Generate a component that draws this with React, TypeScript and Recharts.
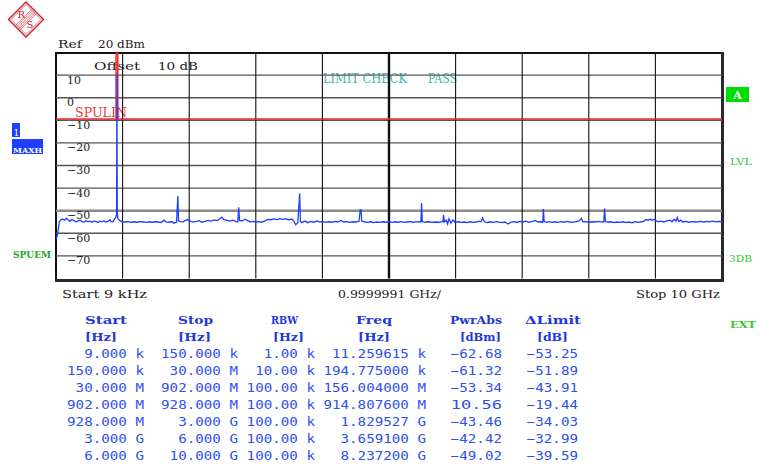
import React from 'react';
import { LineChart, Line, XAxis, YAxis, ReferenceLine } from 'recharts';

// ---- data -----------------------------------------------------------
// trace: [frequency GHz, level dBm]
const traceFreqLevel: [number, number][] = [
  [0.000009, -62.68], [0.024, -60.5], [0.04, -57.0], [0.05, -54.8], [0.075, -54.0], [0.1, -53.7],
  [0.13, -54.2], [0.156, -53.34], [0.18, -54.0], [0.21, -54.6], [0.24, -53.9], [0.27, -54.4],
  [0.3, -54.9], [0.33, -54.5], [0.36, -54.2], [0.39, -54.8], [0.42, -55.0], [0.45, -54.4],
  [0.48, -54.9], [0.51, -54.6], [0.54, -55.1], [0.57, -54.5], [0.6, -54.8], [0.63, -55.2],
  [0.66, -54.6], [0.69, -54.9], [0.72, -54.5], [0.75, -55.0], [0.78, -54.7], [0.81, -54.0],
  [0.825, -54.8], [0.855, -54.9], [0.88, -53.6], [0.9, -53.0], [0.91, -51.5], [0.9148, 10.56],
  [0.92, -51.0], [0.93, -53.5], [0.96, -54.4], [0.99, -54.9], [1.04, -55.0], [1.08, -54.8],
  [1.13, -55.1], [1.17, -54.9], [1.22, -55.1], [1.26, -54.8], [1.31, -55.0], [1.35, -55.2],
  [1.4, -54.9], [1.44, -55.1], [1.49, -54.9], [1.53, -55.0], [1.58, -55.2], [1.62, -54.2],
  [1.65, -54.9], [1.7, -55.1], [1.74, -54.8], [1.77, -55.5], [1.81, -55.0], [1.8295, -43.46],
  [1.84, -54.6], [1.86, -54.8], [1.91, -54.9], [1.95, -54.2], [1.98, -53.9], [2.01, -54.5],
  [2.06, -55.0], [2.1, -54.8], [2.15, -54.4], [2.19, -55.1], [2.24, -54.7], [2.28, -54.3],
  [2.33, -54.6], [2.37, -54.1], [2.42, -54.4], [2.46, -53.6], [2.49, -52.9], [2.52, -54.0],
  [2.57, -54.3], [2.61, -54.6], [2.66, -54.2], [2.7, -54.8], [2.73, -54.9], [2.744, -48.5],
  [2.755, -54.2], [2.79, -54.6], [2.84, -53.8], [2.87, -54.3], [2.91, -54.9], [2.96, -54.7],
  [3.0, -55.0], [3.05, -54.8], [3.09, -55.1], [3.14, -54.5], [3.18, -53.9], [3.23, -54.0],
  [3.27, -53.6], [3.32, -53.9], [3.36, -53.5], [3.41, -53.8], [3.45, -53.6], [3.5, -54.0],
  [3.54, -53.7], [3.57, -54.6], [3.6, -56.2], [3.63, -55.3], [3.659, -42.42], [3.67, -54.8],
  [3.69, -55.2], [3.74, -54.6], [3.78, -55.3], [3.83, -54.7], [3.87, -55.1], [3.92, -54.5],
  [3.96, -55.0], [4.01, -54.8], [4.05, -55.2], [4.1, -54.9], [4.14, -55.1], [4.19, -54.7],
  [4.23, -55.0], [4.28, -54.3], [4.32, -55.0], [4.37, -54.8], [4.41, -55.2], [4.46, -54.9],
  [4.5, -55.0], [4.55, -54.7], [4.568, -49.6], [4.582, -49.8], [4.59, -54.6], [4.64, -55.0],
  [4.68, -55.2], [4.73, -54.9], [4.77, -55.3], [4.82, -55.0], [4.86, -55.2], [4.91, -54.9],
  [4.95, -55.1], [5.0, -54.9], [5.05, -55.2], [5.09, -54.9], [5.14, -55.1], [5.18, -54.8],
  [5.23, -55.2], [5.27, -55.0], [5.32, -54.8], [5.36, -55.1], [5.41, -54.9], [5.45, -54.8],
  [5.48, -54.9], [5.489, -46.6], [5.5, -54.8], [5.54, -55.1], [5.59, -54.9], [5.65, -55.2],
  [5.69, -55.0], [5.74, -55.1], [5.78, -54.9], [5.81, -54.8], [5.82, -51.8], [5.83, -55.0],
  [5.86, -54.2], [5.88, -55.9], [5.9, -53.6], [5.93, -55.5], [5.96, -54.1], [5.99, -55.2],
  [6.04, -54.9], [6.08, -55.2], [6.13, -55.0], [6.17, -55.3], [6.22, -54.9], [6.26, -55.2],
  [6.31, -55.0], [6.35, -54.6], [6.38, -54.9], [6.404, -53.2], [6.43, -54.9], [6.47, -55.3],
  [6.52, -54.9], [6.56, -55.2], [6.61, -54.8], [6.65, -55.1], [6.7, -55.3], [6.74, -55.0],
  [6.79, -55.9], [6.83, -55.1], [6.88, -54.8], [6.92, -55.2], [6.97, -54.7], [7.01, -55.0],
  [7.06, -54.6], [7.1, -55.1], [7.15, -54.8], [7.19, -54.3], [7.24, -55.0], [7.28, -54.9],
  [7.31, -55.1], [7.318, -49.3], [7.33, -54.7], [7.36, -55.1], [7.4, -54.8], [7.45, -55.2],
  [7.49, -54.9], [7.54, -55.2], [7.58, -54.8], [7.63, -55.1], [7.67, -54.7], [7.72, -55.0],
  [7.76, -55.2], [7.81, -54.8], [7.85, -54.5], [7.89, -53.4], [7.91, -54.9], [7.96, -54.8],
  [8.0, -55.1], [8.05, -54.9], [8.09, -55.0], [8.14, -54.7], [8.18, -54.9], [8.225, -55.0],
  [8.2372, -49.02], [8.25, -54.8], [8.29, -55.1], [8.33, -54.9], [8.38, -55.3], [8.42, -55.0],
  [8.47, -55.2], [8.51, -54.9], [8.56, -55.3], [8.6, -55.0], [8.65, -55.4], [8.69, -54.9],
  [8.74, -55.2], [8.78, -55.0], [8.83, -54.6], [8.86, -53.9], [8.89, -54.2], [8.92, -53.7],
  [8.95, -54.3], [8.98, -53.8], [9.01, -54.4], [9.04, -54.9], [9.08, -54.6], [9.13, -55.0],
  [9.17, -54.5], [9.22, -54.2], [9.25, -54.9], [9.28, -53.8], [9.31, -54.6], [9.33, -53.0],
  [9.35, -54.8], [9.38, -54.2], [9.41, -55.0], [9.46, -54.7], [9.5, -55.1], [9.55, -54.8],
  [9.59, -55.0], [9.64, -54.9], [9.68, -54.7], [9.73, -55.0], [9.77, -54.7], [9.82, -54.9],
  [9.86, -54.6], [9.91, -54.9], [9.95, -54.7], [10.0, -54.8],
];

// limit line SPULIN: [frequency GHz, level dBm]
const limitFreqLevel: [number, number][] = [
  [0, -9.43], [0.902, -9.43], [0.902, 30], [0.928, 30], [0.928, -9.43], [10, -9.43],
];

const xGridTicks = [1, 2, 3, 4, 5, 6, 7, 8, 9];
const yGridTicks = [10, 0, -10, -20, -30, -40, -50, -60, -70];
const yTickLabels = ['10', '0', '\u221210', '\u221220', '\u221230', '\u221240', '\u221250', '\u221260', '\u221270'];

// sweep list table
const tableHeaders = ['Start', 'Stop', 'RBW', 'Freq', 'PwrAbs', '\u0394Limit'];
const tableUnits = ['[Hz]', '[Hz]', '[Hz]', '[Hz]', '[dBm]', '[dB]'];
const sweepStart = ['9.000 k', '150.000 k', '30.000 M', '902.000 M', '928.000 M', '3.000 G', '6.000 G'];
const sweepStop = ['150.000 k', '30.000 M', '902.000 M', '928.000 M', '3.000 G', '6.000 G', '10.000 G'];
const sweepRbw = ['1.00 k', '10.00 k', '100.00 k', '100.00 k', '100.00 k', '100.00 k', '100.00 k'];
const peakFreq = ['11.259615 k', '194.775000 k', '156.004000 M', '914.807600 M', '1.829527 G', '3.659100 G', '8.237200 G'];
const peakPower = [-62.68, -61.32, -53.34, 10.56, -43.46, -42.42, -49.02];
const deltaLimit = [-53.25, -51.89, -43.91, -19.44, -34.03, -32.99, -39.59];

// ---- layout / style -------------------------------------------------
const SERIF = 'DejaVu Serif, serif';
const MONO = 'DejaVu Sans Mono, monospace';
const TRACE = '#1f3fff';
const TABLE_BLUE = '#2f4ff0';
const HEAD_BLUE = '#2438d8';
const GREEN = '#2ccc2c';

const fmt = (v: number) => (v < 0 ? '\u2212' : ' ') + Math.abs(v).toFixed(2);

type TProps = { x: number; y: number; w?: number; size?: number; fill?: string; bold?: boolean; family?: string; children: React.ReactNode };
const T = ({ x, y, w, size = 11, fill = '#1c1c1c', bold, family = SERIF, children }: TProps) => (
  <text
    x={x}
    y={y}
    fontFamily={family}
    fontSize={size}
    fontWeight={bold ? 'bold' : 'normal'}
    fill={fill}
    textLength={w}
    lengthAdjust={w ? 'spacingAndGlyphs' : undefined}
  >
    {children}
  </text>
);

const YTickLabel = (props: any) => {
  const vb = props.viewBox || { x: 0, y: 0 };
  return (
    <text x={vb.x + 11} y={vb.y + 8.5} fontFamily={SERIF} fontSize={11} fill="#1c1c1c">
      {props.txt}
    </text>
  );
};

const Logo = () => {
  const cx = 26, cy = 19.5, r = 17.5, r2 = 15;
  const stripes = [-2.2, -1.1, 0, 1.1, 2.2];
  return (
    <g>
      <polygon points={`${cx},${cy - r} ${cx + r},${cy} ${cx},${cy + r} ${cx - r},${cy}`} fill="#fff" stroke="#c8202a" strokeWidth={1.4} />
      <polygon points={`${cx},${cy - r2} ${cx + r2},${cy} ${cx},${cy + r2} ${cx - r2},${cy}`} fill="none" stroke="#c8202a" strokeWidth={0.6} />
      {stripes.map((s, i) => (
        <line key={i} x1={cx - 8 + s} y1={cy + 8 + s} x2={cx + 8 + s} y2={cy - 8 + s} stroke="#c8202a" strokeWidth={0.6} />
      ))}
      <text x={17.5} y={17.5} fontFamily={SERIF} fontSize={10} fill="#c8202a">R</text>
      <text x={26.5} y={28} fontFamily={SERIF} fontSize={10} fill="#c8202a">S</text>
    </g>
  );
};

const COL_RIGHT = [144, 238, 315, 426, 502, 578];
const PITCH = 8.55;
const HEAD_POS: [number, number][] = [[85, 42], [178, 35], [271, 27], [356, 36], [450, 52], [525, 56]];
const UNIT_POS: [number, number][] = [[85, 32], [178, 33], [273, 31], [358, 32], [460, 41], [537, 31]];

export default function App() {
  const traceData = traceFreqLevel.map(([f, v]) => ({ f, v }));
  const limitData = limitFreqLevel.map(([f, v]) => ({ f, v }));
  const rows = sweepStart.map((s, i) => [s, sweepStop[i], sweepRbw[i], peakFreq[i], fmt(peakPower[i]), fmt(deltaLimit[i])]);

  return (
    <div style={{ position: 'absolute', left: 0, top: 0, width: 760, height: 468, background: '#fff', overflow: 'hidden' }}>
      <svg width={760} height={468} style={{ position: 'absolute', left: 0, top: 0 }}>
        <Logo />
        <T x={58} y={48} w={24}>Ref</T>
        <T x={98} y={48} w={47}>20 dBm</T>
        <T x={94} y={69.5} w={46}>Offset</T>
        <T x={158} y={69.5} w={40}>10 dB</T>
        <T x={323} y={82.5} w={84} size={12} fill="#3cb6b6">LIMIT CHECK</T>
        <T x={428} y={82.5} w={29} size={12} fill="#3cb6b6">PASS</T>
        <T x={75} y={117} w={52} size={12} fill="#f03a3a">SPULIN</T>
        <T x={62} y={298} w={85}>Start 9 kHz</T>
        <T x={338} y={298} w={103}>0.9999991 GHz/</T>
        <T x={636} y={298} w={84}>Stop 10 GHz</T>

        {/* frame */}
        <line x1={55} y1={53} x2={723.5} y2={53} stroke="#111" strokeWidth={2} />
        <line x1={56} y1={52} x2={56} y2={282} stroke="#111" strokeWidth={2} />
        <line x1={722.5} y1={52} x2={722.5} y2={282} stroke="#2a2a2a" strokeWidth={3} />
        <line x1={55} y1={280.5} x2={724} y2={280.5} stroke="#2a2a2a" strokeWidth={3} />

        {/* left side indicators */}
        <rect x={12} y={123} width={8} height={14} fill={TRACE} />
        <text x={13.5} y={136} fontFamily={SERIF} fontSize={9} fill="#fff">1</text>
        <rect x={12} y={139} width={31} height={15} fill={TRACE} />
        <T x={13} y={152.5} w={29} size={8} bold fill="#fff">MAXH</T>
        <T x={13} y={258} w={38} size={9} bold fill="#22a822">SPUEM</T>

        {/* right side indicators */}
        <rect x={726} y={87} width={23} height={15} fill="#00dd00" />
        <text x={737.5} y={99} textAnchor="middle" fontFamily={SERIF} fontSize={11} fontWeight="bold" fill="#fff">A</text>
        <T x={730} y={165} w={22} size={9} fill={GREEN}>LVL</T>
        <T x={729} y={262} w={23} size={9} fill={GREEN}>3DB</T>
        <T x={730} y={328} w={26} size={9} bold fill={GREEN}>EXT</T>

        {/* sweep list table */}
        {tableHeaders.map((h, i) => (
          <T key={'h' + i} x={HEAD_POS[i][0]} y={324} w={HEAD_POS[i][1]} size={11} bold fill={HEAD_BLUE}>{h}</T>
        ))}
        {tableUnits.map((u, i) => (
          <T key={'u' + i} x={UNIT_POS[i][0]} y={341} w={UNIT_POS[i][1]} size={11} bold fill={HEAD_BLUE}>{u}</T>
        ))}
        {rows.map((row, r) =>
          row.map((cell, c) => {
            const w = cell.length * PITCH;
            return (
              <T key={r + '-' + c} x={COL_RIGHT[c] - w} y={358 + r * 17} w={w} size={11.5} family={MONO} fill={TABLE_BLUE}>
                {cell}
              </T>
            );
          })
        )}
      </svg>

      <div style={{ position: 'absolute', left: 0, top: 0 }}>
        <LineChart width={760} height={468} margin={{ top: 52.5, right: 38, bottom: 189.5, left: 56 }}>
          <XAxis type="number" dataKey="f" domain={[0, 10]} hide allowDataOverflow />
          <YAxis type="number" domain={[-80, 20]} hide allowDataOverflow />
          {yGridTicks.map((v, i) => (
            <ReferenceLine
              key={'y' + v}
              y={v}
              stroke={v === -50 ? '#8a8a8a' : '#555'}
              strokeWidth={v === -50 ? 2.4 : 1.4}
              label={<YTickLabel txt={yTickLabels[i]} />}
            />
          ))}
          {xGridTicks.map((v) => (
            <ReferenceLine key={'x' + v} x={v} stroke="#111" strokeWidth={v === 5 ? 2.4 : 1.1} />
          ))}
          <Line data={limitData} dataKey="v" type="linear" stroke="#f02828" strokeWidth={1.5} dot={false} isAnimationActive={false} />
          <Line data={traceData} dataKey="v" type="linear" stroke={TRACE} strokeWidth={1.3} dot={false} isAnimationActive={false} />
        </LineChart>
      </div>
    </div>
  );
}
